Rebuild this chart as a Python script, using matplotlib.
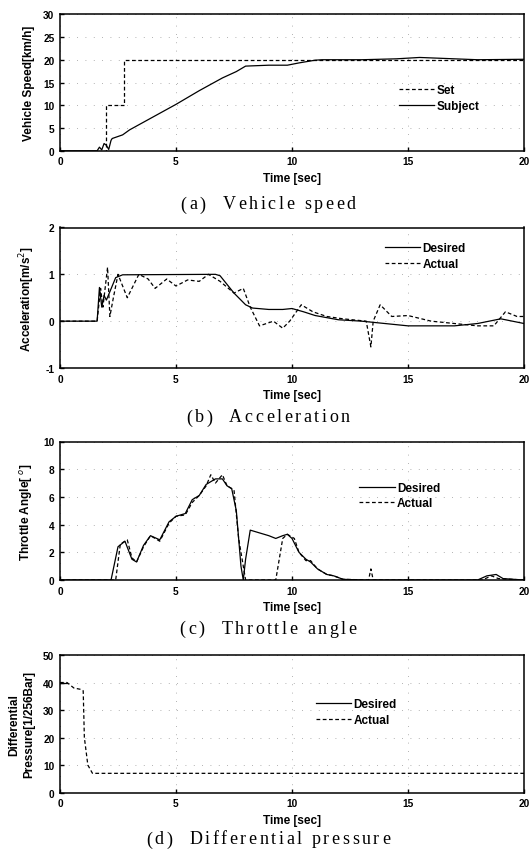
import matplotlib.pyplot as plt

plt.rcParams['font.family'] = ['Liberation Sans', 'DejaVu Sans']
plt.rcParams['axes.unicode_minus'] = False

# (a) vehicle speed
t_set = [0, 2.0, 2.0, 2.78, 2.78, 20]
v_set = [0, 0, 10, 10, 20, 20]
t_sub = [0, 1.6, 1.7, 1.8, 1.9, 2.0, 2.1, 2.2, 2.25, 2.7, 3.0, 4.0, 5.0, 6.0, 7.0, 7.6, 8.0, 9.0, 9.8, 10.3, 11.0, 11.3, 13.0, 14.5, 15.5, 16.5, 18.0, 20]
v_sub = [0, 0, 0.8, 0.2, 1.6, 1.2, 0.3, 2.3, 2.7, 3.5, 4.6, 7.4, 10.2, 13.2, 16.0, 17.4, 18.6, 18.8, 18.8, 19.3, 19.9, 20.0, 20.0, 20.2, 20.5, 20.3, 20.0, 20.1]

# (b) acceleration
t_ad = [0, 1.6, 1.7, 1.8, 1.9, 2.0, 2.4, 2.7, 6.7, 6.9, 7.5, 8.0, 8.3, 9.0, 9.6, 10.0, 10.5, 11.0, 12.0, 13.0, 14.0, 15.0, 16.0, 17.0, 18.0, 19.0, 20]
a_des = [0, 0, 0.72, 0.3, 0.55, 0.45, 0.93, 0.99, 1.0, 0.97, 0.6, 0.35, 0.28, 0.25, 0.25, 0.27, 0.2, 0.12, 0.03, 0.0, -0.05, -0.1, -0.1, -0.1, -0.05, 0.05, -0.05]
t_aa = [0, 1.6, 1.75, 1.85, 2.05, 2.15, 2.3, 2.5, 2.9, 3.4, 3.8, 4.1, 4.6, 5.0, 5.5, 6.0, 6.4, 6.9, 7.5, 7.9, 8.2, 8.6, 9.2, 9.6, 9.9, 10.4, 10.9, 11.5, 12.2, 13.2, 13.4, 13.5, 13.8, 14.3, 15.0, 16.0, 17.0, 18.0, 18.7, 19.2, 19.7, 20]
a_act = [0, 0, 0.7, 0.3, 1.15, 0.1, 0.5, 1.0, 0.5, 1.0, 0.9, 0.7, 0.9, 0.75, 0.88, 0.85, 1.0, 0.85, 0.6, 0.7, 0.3, -0.1, 0.0, -0.15, 0.0, 0.35, 0.2, 0.1, 0.05, 0.0, -0.55, 0.0, 0.35, 0.1, 0.12, 0.0, -0.05, -0.1, -0.1, 0.2, 0.1, 0.1]

# (c) throttle angle
t_td = [0, 2.2, 2.5, 2.8, 3.1, 3.3, 3.6, 3.9, 4.3, 4.7, 5.0, 5.4, 5.7, 6.0, 6.3, 6.7, 7.0, 7.2, 7.4, 7.6, 7.8, 7.9, 8.0, 8.2, 8.6, 9.0, 9.3, 9.6, 9.8, 10.0, 10.3, 10.6, 10.8, 11.1, 11.5, 11.8, 12.2, 13.0, 18.0, 18.4, 18.8, 19.1, 20]
th_des = [0, 0, 2.4, 2.8, 1.5, 1.3, 2.5, 3.2, 2.9, 4.2, 4.6, 4.8, 5.8, 6.1, 6.9, 7.3, 7.3, 6.8, 6.6, 5.0, 1.0, 0, 1.5, 3.6, 3.4, 3.2, 3.0, 3.2, 3.3, 3.0, 2.0, 1.5, 1.3, 0.8, 0.4, 0.3, 0.05, 0, 0, 0.3, 0.4, 0.1, 0]
t_ta = [0, 2.4, 2.6, 2.9, 3.1, 3.3, 3.6, 3.9, 4.3, 4.7, 5.0, 5.4, 5.7, 6.0, 6.3, 6.5, 6.7, 7.0, 7.2, 7.5, 7.7, 8.0, 9.3, 9.6, 9.8, 10.1, 10.3, 10.6, 10.8, 11.1, 11.5, 11.8, 12.2, 13.3, 13.4, 13.5, 18.2, 18.6, 18.9, 20]
th_act = [0, 0, 2.6, 2.9, 1.6, 1.3, 2.4, 3.2, 2.8, 4.1, 4.6, 4.7, 5.6, 6.1, 6.8, 7.6, 7.0, 7.6, 6.8, 6.5, 3.0, 0, 0, 3.0, 3.3, 3.0, 2.0, 1.4, 1.4, 0.8, 0.4, 0.3, 0.05, 0, 0.8, 0, 0, 0.3, 0.1, 0]

# (d) differential pressure
t_pd = [0, 0.3]
p_des = [40, 40]
t_pa = [0, 0.3, 0.6, 0.9, 1.0, 1.05, 1.2, 1.4, 20]
p_act = [40, 40, 38, 37.5, 37, 20, 10, 7, 7]

xticks = [0, 5, 10, 15, 20]
captions = ['(a)  Vehicle speed', '(b)  Acceleration', '(c)  Throttle angle', '(d)  Differential pressure']

FW, FH = 529, 854
fig = plt.figure(figsize=(FW / 100, FH / 100), dpi=100)
L, W = 60 / FW, 464 / FW
ax_a = fig.add_axes([L, 1 - 151.8 / FH, W, 136.6 / FH])
ax_b = fig.add_axes([L, 1 - 369 / FH, W, 140.5 / FH])
ax_c = fig.add_axes([L, 1 - 581 / FH, W, 138.5 / FH])
ax_d = fig.add_axes([L, 1 - 793.6 / FH, W, 137.6 / FH])

def style(ax, yticks, ylabel, legpos):
    ax.set_xlim(0, 20)
    ax.set_ylim(yticks[0], yticks[-1])
    ax.set_xticks(xticks)
    ax.set_yticks(yticks)
    ax.tick_params(direction='in', length=3, width=1, labelsize=7.3, pad=4)
    for lab in ax.get_xticklabels() + ax.get_yticklabels():
        lab.set_fontweight('bold')
    for s in ax.spines.values():
        s.set_linewidth(1.1)
    ax.grid(True, linestyle=(0, (1, 9)), color='0.6', linewidth=0.6)
    ax.set_xlabel('Time [sec]', fontsize=8.5, fontweight='bold', labelpad=4)
    ax.set_ylabel(ylabel, fontsize=8.5, fontweight='bold', labelpad=6, linespacing=1.3)
    leg = ax.legend(loc='center left', bbox_to_anchor=legpos, frameon=False,
                    fontsize=8.5, handlelength=3.0, handletextpad=0.2,
                    labelspacing=0.3, borderpad=0, borderaxespad=0)
    for tx in leg.get_texts():
        tx.set_fontweight('bold')

dash = (0, (3, 2))
ax_a.plot(t_set, v_set, color='k', ls=dash, lw=0.9, label='Set')
ax_a.plot(t_sub, v_sub, 'k-', lw=0.9, label='Subject')
style(ax_a, [0, 5, 10, 15, 20, 25, 30], 'Vehicle Speed[km/h]', (0.73, 0.386))

ax_b.plot(t_ad, a_des, 'k-', lw=0.9, label='Desired')
ax_b.plot(t_aa, a_act, color='k', ls=dash, lw=0.9, label='Actual')
style(ax_b, [-1, 0, 1, 2], 'Acceleration[m/s$^2$]', (0.70, 0.797))

ax_c.plot(t_td, th_des, 'k-', lw=0.9, label='Desired')
ax_c.plot(t_ta, th_act, color='k', ls=dash, lw=0.9, label='Actual')
style(ax_c, [0, 2, 4, 6, 8, 10], 'Throttle Angle[ $^o$]', (0.645, 0.61))

ax_d.plot(t_pd, p_des, 'k-', lw=0.9, label='Desired')
ax_d.plot(t_pa, p_act, color='k', ls=dash, lw=0.9, label='Actual')
style(ax_d, [0, 10, 20, 30, 40, 50], 'Differential\nPressure[1/256Bar]', (0.551, 0.584))

# captions: serif, slightly letter-spaced, centred at x=268 px
r = fig.canvas.get_renderer()
cap_y = [205, 418, 629, 840]
serif = ['Liberation Serif', 'DejaVu Serif']
csize = 13
track = 2.6
for s, yy in zip(captions, cap_y):
    widths = []
    for ch in s:
        if ch == ' ':
            widths.append(4.5)
            continue
        t = fig.text(0, 0, ch, fontsize=csize, family=serif)
        widths.append(t.get_window_extent(r).width)
        t.remove()
    total = sum(widths) + track * (len(s) - 1)
    x = 268 - total / 2
    for ch, w in zip(s, widths):
        if ch != ' ':
            fig.text(x / FW, 1 - yy / FH, ch, fontsize=csize, family=serif,
                     ha='left', va='center')
        x += w + track

fig.savefig('out.png', dpi=100)
